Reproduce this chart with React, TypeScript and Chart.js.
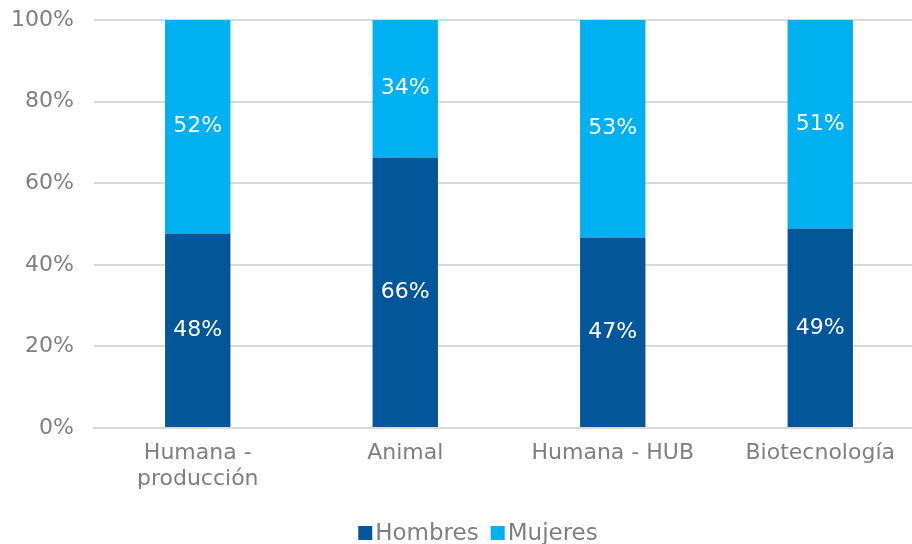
import React, { useEffect, useRef } from "react";
import { Chart, registerables } from "chart.js";

Chart.register(...registerables);

const categories: (string | string[])[] = [["Humana -", "producción"], "Animal", "Humana - HUB", "Biotecnología"];
const seriesNames = ["Hombres", "Mujeres"];
const hombres = [47.7, 66.3, 46.7, 48.9];
const mujeres = [52.3, 33.7, 53.3, 51.1];
const yTicks = [0, 20, 40, 60, 80, 100];
const colors = ["#03569A", "#00B0F0"];

const FONT = "'DejaVu Sans', sans-serif";
const TXT = "#7f7f7f";
const SIZE = 22;

const dataLabels = {
  id: "dataLabels",
  afterDatasetsDraw(chart: any) {
    const ctx = chart.ctx;
    ctx.save();
    ctx.font = `${SIZE}px ${FONT}`;
    ctx.fillStyle = "#ffffff";
    ctx.textAlign = "center";
    ctx.textBaseline = "middle";
    chart.data.datasets.forEach((ds: any, i: number) => {
      const meta = chart.getDatasetMeta(i);
      meta.data.forEach((bar: any, j: number) => {
        const v = ds.data[j];
        const y = (bar.y + bar.base) / 2;
        ctx.fillText(Math.round(v) + "%", bar.x, y);
      });
    });
    ctx.restore();
  },
};

const customLegend = {
  id: "customLegend",
  afterDraw(chart: any) {
    const ctx = chart.ctx;
    ctx.save();
    ctx.font = `23px ${FONT}`;
    ctx.textBaseline = "alphabetic";
    ctx.textAlign = "left";
    const box = 14;
    const gap = 3;
    const spacing = 12;
    const items = chart.data.datasets.map((ds: any) => ({
      text: ds.label,
      color: ds.backgroundColor,
      w: box + gap + ctx.measureText(ds.label).width,
    }));
    const total = items.reduce((s: number, it: any) => s + it.w, 0) + spacing * (items.length - 1);
    let x = 478 - total / 2;
    const baseline = 540;
    items.forEach((it: any) => {
      ctx.fillStyle = it.color;
      ctx.fillRect(x, baseline - box, box, box);
      ctx.fillStyle = TXT;
      ctx.fillText(it.text, x + box + gap, baseline);
      x += it.w + spacing;
    });
    ctx.restore();
  },
};

export default function App() {
  const ref = useRef<HTMLCanvasElement>(null);
  useEffect(() => {
    if (!ref.current) return;
    const chart = new Chart(ref.current, {
      type: "bar",
      data: {
        labels: categories,
        datasets: [
          { label: seriesNames[0], data: hombres, backgroundColor: colors[0], barPercentage: 0.315, categoryPercentage: 1 },
          { label: seriesNames[1], data: mujeres, backgroundColor: colors[1], barPercentage: 0.315, categoryPercentage: 1 },
        ],
      },
      options: {
        animation: false,
        responsive: false,
        maintainAspectRatio: false,
        layout: { padding: { top: 20, right: 0, bottom: 40, left: 0 } },
        scales: {
          x: {
            stacked: true,
            grid: { display: false, drawTicks: false },
            border: { color: "#D9D9D9", width: 2 },
            ticks: { color: TXT, font: { size: SIZE, family: FONT, lineHeight: 1.18 }, padding: 12, maxRotation: 0, autoSkip: false },
          },
          y: {
            stacked: true,
            min: 0,
            max: 100,
            afterBuildTicks(axis: any) {
              axis.ticks = yTicks.map((v) => ({ value: v }));
            },
            afterFit(axis: any) {
              axis.width = 94;
              axis.paddingTop = 0;
              axis.paddingBottom = 0;
            },
            grid: { color: "#D9D9D9", lineWidth: 2, drawTicks: false },
            border: { display: false },
            ticks: {
              color: TXT,
              font: { size: SIZE, family: FONT },
              padding: 20,
              callback: (v: any) => v + "%",
            },
          },
        },
        plugins: {
          legend: { display: false },
          tooltip: { enabled: false },
        },
      },
      plugins: [dataLabels, customLegend],
    });
    return () => chart.destroy();
  }, []);
  return (
    <div style={{ position: "fixed", left: 0, top: 0, width: 912, height: 544, overflow: "hidden", background: "#fff" }}>
      <canvas ref={ref} width={924} height={544} style={{ display: "block" }} />
    </div>
  );
}
